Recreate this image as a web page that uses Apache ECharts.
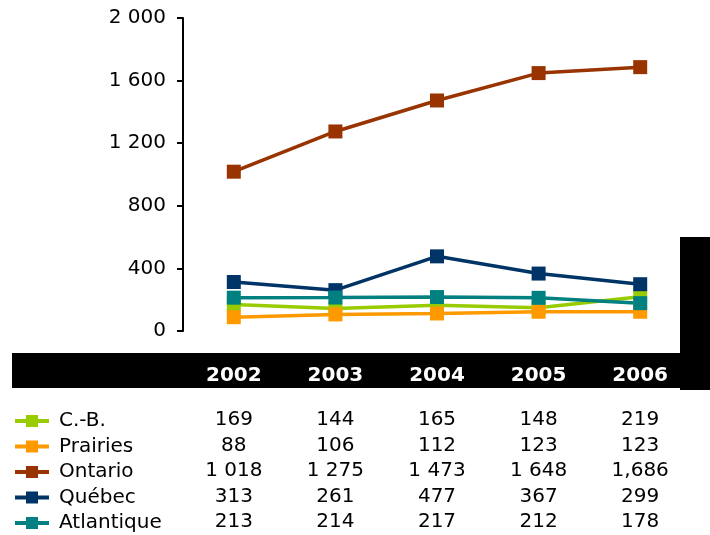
<!DOCTYPE html>
<html>
<head>
<meta charset="utf-8">
<script src="https://cdn.jsdelivr.net/npm/echarts@6/dist/echarts.min.js"></script>
<style>
  html, body { margin: 0; padding: 0; background: #fff; }
  #chart { width: 710px; height: 535px; }
</style>
</head>
<body>
<div id="chart"></div>
<script>
const years = ['2002', '2003', '2004', '2005', '2006'];
const seriesNames = ['C.-B.', 'Prairies', 'Ontario', 'Québec', 'Atlantique'];
const cb = [169, 144, 165, 148, 219];
const prairies = [88, 106, 112, 123, 123];
const ontario = [1018, 1275, 1473, 1648, 1686];
const quebec = [313, 261, 477, 367, 299];
const atlantique = [213, 214, 217, 212, 178];
const ontarioText = ['1 018', '1 275', '1 473', '1 648', '1,686'];
const yTicks = [0, 400, 800, 1200, 1600, 2000];

const colors = ['#99CC00', '#FF9900', '#993300', '#003366', '#008080'];
const allData = [cb, prairies, ontario, quebec, atlantique];
const font = 'DejaVu Sans';

function fmt(v) {
    return String(v).replace(/\B(?=(\d{3})+(?!\d))/g, ' ');
}

const chart = echarts.init(document.getElementById('chart'));

const option = {
    animation: false,
    color: colors,
    grid: { left: 183, right: 19, top: 18, bottom: 204 },
    legend: {
        orient: 'vertical',
        left: 13,
        top: 411,
        height: 124,
        padding: 0,
        itemWidth: 34,
        itemHeight: 15,
        itemGap: 5.5,
        data: seriesNames,
        lineStyle: { width: 4 },
        textStyle: {
            fontFamily: font,
            fontSize: 20,
            color: '#000',
            lineHeight: 20,
            padding: [0, 0, 0, 5]
        }
    },
    xAxis: {
        type: 'category',
        data: years,
        z: 10,
        axisLine: { show: false },
        axisTick: { show: false },
        axisLabel: {
            margin: 35,
            color: '#fff',
            fontWeight: 'bold',
            fontFamily: font,
            fontSize: 20
        }
    },
    yAxis: {
        type: 'value',
        min: 0,
        max: yTicks[yTicks.length - 1],
        interval: 400,
        splitLine: { show: false },
        axisLine: { show: true, lineStyle: { color: '#000', width: 2 } },
        axisTick: { show: true, length: 6, lineStyle: { color: '#000', width: 2 } },
        axisLabel: {
            margin: 17,
            color: '#000',
            fontFamily: font,
            fontSize: 20,
            formatter: v => fmt(v)
        }
    },
    graphic: [
        { type: 'rect', z: -1, shape: { x: 12, y: 353, width: 686, height: 35 }, style: { fill: '#000' } },
        { type: 'rect', z: -1, shape: { x: 680, y: 237, width: 30, height: 153 }, style: { fill: '#000' } }
    ],
    series: seriesNames.map((name, i) => ({
        name: name,
        type: 'line',
        data: allData[i],
        symbol: 'rect',
        symbolSize: 14,
        lineStyle: { width: 3.5 },
        itemStyle: { color: colors[i] }
    }))
};

chart.setOption(option);

// data table under the chart
const rowY = [420, 446, 471, 497, 522];
const tableText = [];
allData.forEach((arr, r) => {
    arr.forEach((v, c) => {
        const x = chart.convertToPixel({ xAxisIndex: 0 }, years[c]);
        tableText.push({
            type: 'text',
            x: x,
            y: rowY[r],
            style: {
                text: r === 2 ? ontarioText[c] : fmt(v),
                fill: '#000',
                font: '20px "' + font + '"',
                textAlign: 'center',
                textVerticalAlign: 'middle'
            }
        });
    });
});
chart.setOption({ graphic: option.graphic.concat(tableText) });
</script>
</body>
</html>
